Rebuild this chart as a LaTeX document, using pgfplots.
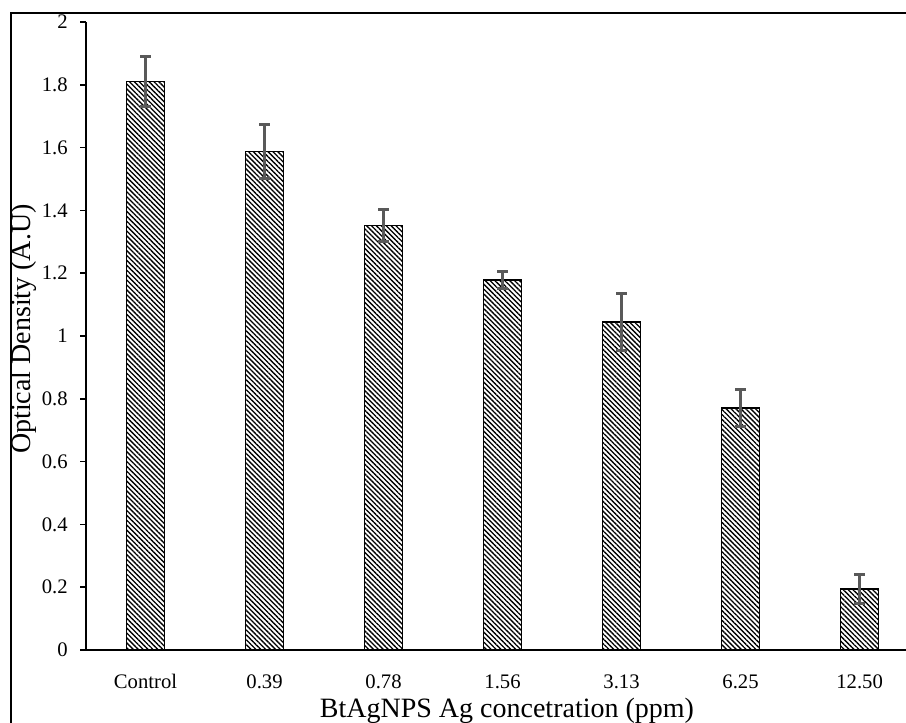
\documentclass[border=0pt]{standalone}
\usepackage{fontspec}
\setmainfont{Liberation Serif}
\usepackage{pgfplots}
\pgfplotsset{compat=1.18}
\usetikzlibrary{patterns.meta}
\definecolor{errgray}{RGB}{89,89,89}
\begin{document}
\begin{tikzpicture}
\useasboundingbox (0,0) rectangle (679.5pt,541.5pt);
\draw[line width=1.5pt] (8.25pt,-5pt) -- (8.25pt,531.75pt) -- (690pt,531.75pt);
\begin{axis}[
  at={(64.5pt,54pt)}, anchor=south west, scale only axis,
  width=615pt, height=471pt,
  xmin=-0.5, xmax=6.39, ymin=0, ymax=2,
  axis x line=bottom, axis y line=left,
  axis line style={-, line width=1.1pt, black},
  xtick={0,1,2,3,4,5,6},
  xticklabels={Control,0.39,0.78,1.56,3.13,6.25,12.50},
  ytick={0,0.2,0.4,0.6,0.8,1,1.2,1.4,1.6,1.8,2},
  tick align=outside, major tick length=4.5pt,
  x tick style={draw=none},
  y tick style={line width=1.1pt, black},
  /pgf/number format/assume math mode=true,
  yticklabel style={font=\fontsize{15.5}{18}\selectfont, anchor=east, inner sep=0pt, xshift=-9pt},
  xticklabel style={font=\fontsize{15.5}{18}\selectfont, anchor=base, inner sep=0pt, yshift=-24pt},
  xlabel={BtAgNPS Ag concetration (ppm)},
  ylabel={Optical Density (A.U)},
  xlabel style={font=\fontsize{21}{25}\selectfont, at={(axis description cs:0.5,0)}, anchor=base, inner sep=0pt, yshift=-50.5pt, xshift=8.25pt},
  ylabel style={font=\fontsize{21}{25}\selectfont, at={(axis description cs:-0.0755,0.511)}, anchor=center, inner sep=0pt},
]
\addplot[ybar, bar width=28.5pt, draw=black, line width=1pt,
  pattern={Lines[angle=-45,distance=2.6pt,line width=1pt]},
  error bars/.cd, y dir=both, y explicit,
  error mark=|,
  error bar style={line width=2.25pt, errgray},
  error mark options={mark size=4.1pt, line width=2.25pt, errgray}]
coordinates {
  (0,1.810) +- (0,0.080)
  (1,1.587) +- (0,0.085)
  (2,1.352) +- (0,0.051)
  (3,1.178) +- (0,0.027)
  (4,1.045) +- (0,0.090)
  (5,0.771) +- (0,0.058)
  (6,0.194) +- (0,0.045)
};
\end{axis}
\end{tikzpicture}
\end{document}
